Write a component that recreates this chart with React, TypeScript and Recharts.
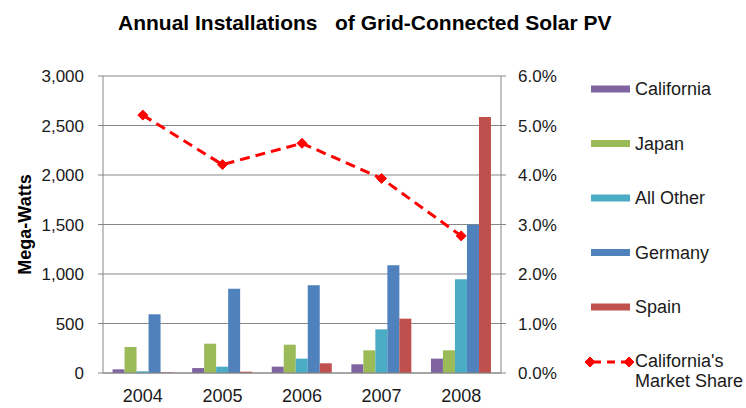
import {
  ComposedChart,
  Bar,
  Line,
  XAxis,
  YAxis,
  CartesianGrid,
} from "recharts";

const years = ["2004", "2005", "2006", "2007", "2008"];
const california = [37, 50, 64, 88, 145];
const japan = [263, 296, 286, 229, 229];
const allOther = [17, 64, 145, 441, 946];
const germany = [593, 852, 886, 1088, 1498];
const spain = [5, 13, 98, 549, 2586];
const marketShare = [0.0521, 0.0421, 0.0464, 0.0393, 0.0277];

const mwTicks = [0, 500, 1000, 1500, 2000, 2500, 3000];
const shareTicks = [0, 0.01, 0.02, 0.03, 0.04, 0.05, 0.06];
const edgeTicks = [0, 1, 2, 3, 4, 5];

const barSeries = [
  { key: "california", name: "California", color: "#8064A2" },
  { key: "japan", name: "Japan", color: "#9BBB59" },
  { key: "allOther", name: "All Other", color: "#4BACC6" },
  { key: "germany", name: "Germany", color: "#4F81BD" },
  { key: "spain", name: "Spain", color: "#C0504D" },
];

const data = years.map((year, i) => ({
  year,
  california: california[i],
  japan: japan[i],
  allOther: allOther[i],
  germany: germany[i],
  spain: spain[i],
  share: marketShare[i],
}));

const FONT = "'Liberation Sans', Arial, sans-serif";
const GRID = "#878787";
const TEXT = "#1a1a1a";

const Diamond = (props: any) => {
  const { cx, cy } = props;
  if (cx == null || cy == null) return null;
  const r = 5;
  return (
    <path
      d={`M${cx},${cy - r} L${cx + r},${cy} L${cx},${cy + r} L${cx - r},${cy} Z`}
      fill="#FF0000"
      stroke="#FF0000"
    />
  );
};

export default function App() {
  const yTick = { fontSize: 17, fill: TEXT, fontFamily: FONT };
  const xTick = { fontSize: 18, fill: TEXT, fontFamily: FONT };
  return (
    <div style={{ position: "absolute", left: 0, top: 0, width: 746, height: 408, background: "#fff" }}>
      <ComposedChart
        width={746}
        height={408}
        data={data}
        margin={{ top: 76, right: 185, bottom: 0, left: 43 }}
        barCategoryGap="12%"
        barGap={0}
      >
        <CartesianGrid horizontal vertical={false} stroke={GRID} yAxisId="mw" />
        <XAxis
          xAxisId="edges"
          type="number"
          domain={[0, 5]}
          ticks={edgeTicks}
          allowDataOverflow
          height={0}
          axisLine={false}
          tickLine={{ stroke: GRID }}
          tickSize={6}
          tickFormatter={() => ""}
        />
        <XAxis
          xAxisId="cat"
          dataKey="year"
          height={35}
          axisLine={{ stroke: GRID }}
          tickLine={false}
          tickSize={6}
          tickMargin={10}
          tick={xTick}
        />
        <YAxis
          yAxisId="mw"
          domain={[0, 3000]}
          ticks={mwTicks}
          width={60}
          axisLine={{ stroke: GRID }}
          tickLine={{ stroke: GRID }}
          tickSize={5}
          tickMargin={14}
          tick={yTick}
          tickFormatter={(v: number) => v.toLocaleString("en-US")}
          label={{
            value: "Mega-Watts",
            angle: -90,
            position: "insideLeft",
            offset: -18,
            style: { textAnchor: "middle", fontSize: 18, fontWeight: "bold", fill: "#000", fontFamily: FONT },
          }}
        />
        <YAxis
          yAxisId="share"
          orientation="right"
          domain={[0, 0.06]}
          ticks={shareTicks}
          width={60}
          axisLine={{ stroke: GRID }}
          tickLine={{ stroke: GRID }}
          tickSize={5}
          tickMargin={12}
          tick={yTick}
          tickFormatter={(v: number) => (v * 100).toFixed(1) + "%"}
        />
        {barSeries.map((s) => (
          <Bar
            key={s.key}
            xAxisId="cat"
            yAxisId="mw"
            dataKey={s.key}
            name={s.name}
            fill={s.color}
            isAnimationActive={false}
          />
        ))}
        <Line
          xAxisId="cat"
          yAxisId="share"
          dataKey="share"
          name="California's Market Share"
          stroke="#FF0000"
          strokeWidth={3}
          strokeDasharray="10 6"
          dot={<Diamond />}
          activeDot={false}
          isAnimationActive={false}
        />
      </ComposedChart>

      <svg
        width={746}
        height={408}
        style={{ position: "absolute", left: 0, top: 0, pointerEvents: "none" }}
      >
        <text
          x={118}
          y={30}
          fontFamily={FONT}
          fontWeight="bold"
          fontSize={21}
          fill="#000"
          style={{ whiteSpace: "pre" }}
        >
          {"Annual Installations   of Grid-Connected Solar PV"}
        </text>
        {barSeries.map((s, i) => {
          const y = 89 + i * 54.5;
          return (
            <g key={s.key}>
              <rect x={591} y={y - 3.5} width={39} height={7} fill={s.color} />
              <text x={635} y={y + 6} fontFamily={FONT} fontSize={18} fill={TEXT}>
                {s.name}
              </text>
            </g>
          );
        })}
        <g>
          <line x1={589} y1={362} x2={630} y2={362} stroke="#FF0000" strokeWidth={3} strokeDasharray="8 6" strokeDashoffset={-4} />
          <Diamond cx={590} cy={362} />
          <Diamond cx={629} cy={362} />
          <text x={635} y={367} fontFamily={FONT} fontSize={18} fill={TEXT}>
            California's
          </text>
          <text x={635} y={387} fontFamily={FONT} fontSize={18} fill={TEXT}>
            Market Share
          </text>
        </g>
      </svg>
    </div>
  );
}
